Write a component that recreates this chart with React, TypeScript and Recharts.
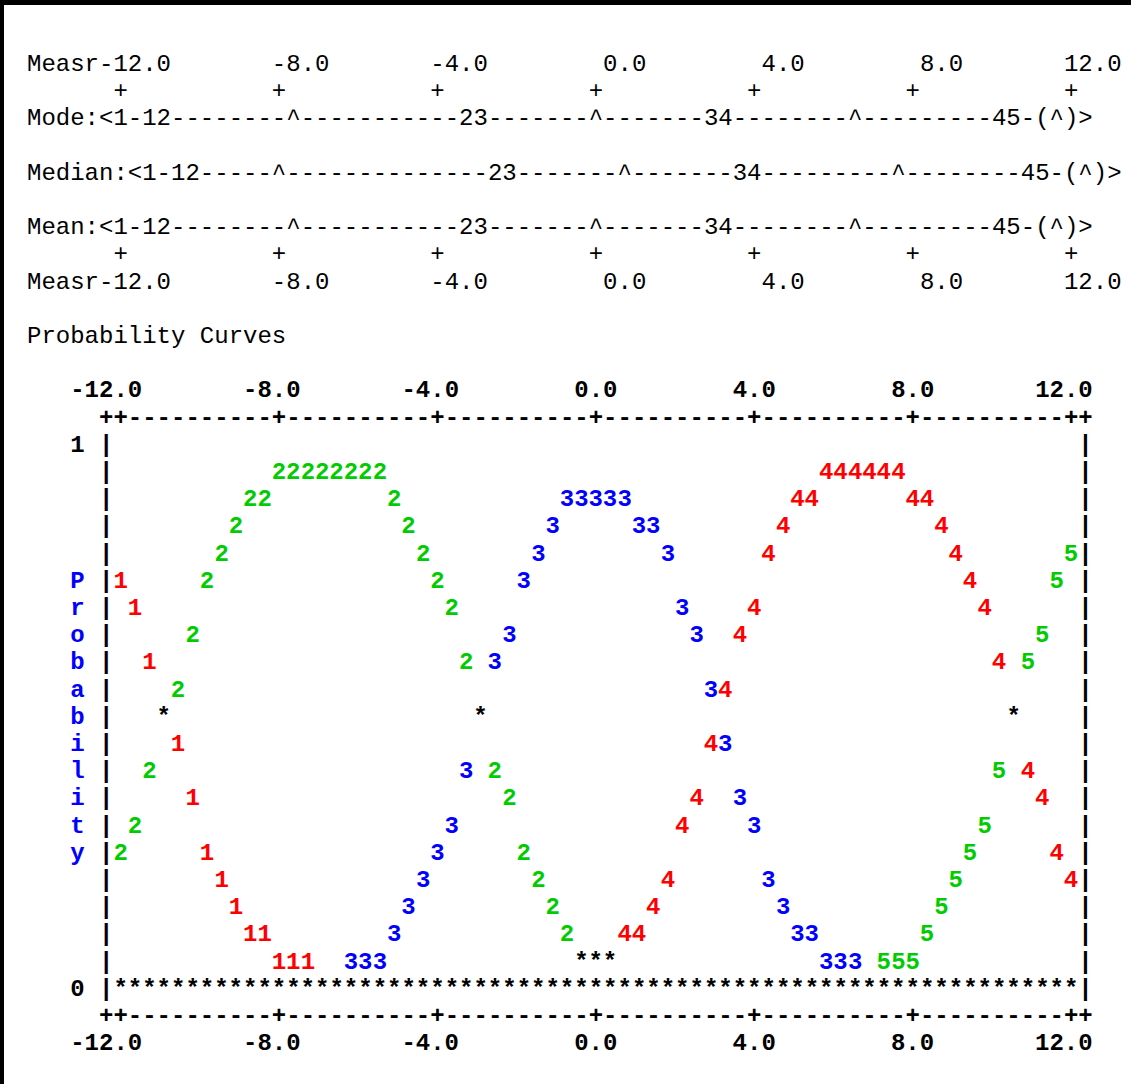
import React from "react";
import { Scatter, ScatterChart, XAxis, YAxis } from "recharts";

// page + monospace grid (24px Liberation Mono = 14.4px per cell)
const W = 1131;
const H = 1084;
const CW = 14.4;
const LH = 27.2;
const X0 = 27;
const Y0 = 63;
const SHIFT = 8;
const FONT = "'Liberation Mono', 'Courier New', monospace";
const AX = 40; // room reserved for the axes

const RED = "#ff0000";
const GREEN = "#00cc00";
const BLUE = "#0000ff";

const TICKS = [-12, -8, -4, 0, 4, 8, 12];

// summary lines: strings are text, numbers are runs of dashes
const MODE_MARKS: Array<string | number> = ["Mode:<1-12", 8, "^", 11, "23", 7, "^", 7, "34", 8, "^", 9, "45-(^)>"];
const MEDIAN_MARKS: Array<string | number> = ["Median:<1-12", 5, "^", 14, "23", 7, "^", 7, "34", 9, "^", 8, "45-(^)>"];
const MEAN_MARKS: Array<string | number> = ["Mean:<1-12", 8, "^", 11, "23", 7, "^", 7, "34", 8, "^", 9, "45-(^)>"];

const TITLE = "Probability Curves";
const Y_LABEL = "Probability";

// [measure, probability]
const CAT1 = [[-12.0, 0.75], [-11.64, 0.7], [-11.27, 0.6], [-10.55, 0.45], [-10.18, 0.35], [-9.82, 0.25], [-9.45, 0.2], [-9.09, 0.15], [-8.73, 0.1], [-8.36, 0.1], [-8.0, 0.05], [-7.64, 0.05], [-7.27, 0.05]];
const CAT2 = [[-8.0, 0.95], [-7.64, 0.95], [-7.27, 0.95], [-6.91, 0.95], [-6.55, 0.95], [-6.18, 0.95], [-5.82, 0.95], [-5.45, 0.95], [-8.73, 0.9], [-8.36, 0.9], [-5.09, 0.9], [-9.09, 0.85], [-4.73, 0.85], [-9.45, 0.8], [-4.36, 0.8], [-9.82, 0.75], [-4.0, 0.75], [-3.64, 0.7], [-10.18, 0.65], [-3.27, 0.6], [-10.55, 0.55], [-11.27, 0.4], [-2.55, 0.4], [-2.18, 0.35], [-11.64, 0.3], [-12.0, 0.25], [-1.82, 0.25], [-1.45, 0.2], [-1.09, 0.15], [-0.73, 0.1]];
const CAT3 = [[-6.18, 0.05], [-5.82, 0.05], [-5.45, 0.05], [-5.09, 0.1], [-4.73, 0.15], [-4.36, 0.2], [-4.0, 0.25], [-3.64, 0.3], [-3.27, 0.4], [-2.55, 0.6], [-2.18, 0.65], [-1.82, 0.75], [-1.45, 0.8], [-1.09, 0.85], [-0.73, 0.9], [-0.36, 0.9], [0, 0.9], [0.36, 0.9], [0.73, 0.9], [1.09, 0.85], [1.45, 0.85], [1.82, 0.8], [2.18, 0.7], [2.55, 0.65], [2.91, 0.55], [3.27, 0.45], [3.64, 0.35], [4.0, 0.3], [4.36, 0.2], [4.73, 0.15], [5.09, 0.1], [5.45, 0.1], [5.82, 0.05], [6.18, 0.05], [6.55, 0.05]];
const CAT4 = [[0.73, 0.1], [1.09, 0.1], [1.45, 0.15], [1.82, 0.2], [2.18, 0.3], [2.55, 0.35], [2.91, 0.45], [3.27, 0.55], [3.64, 0.65], [4.0, 0.7], [4.36, 0.8], [4.73, 0.85], [5.09, 0.9], [5.45, 0.9], [5.82, 0.95], [6.18, 0.95], [6.55, 0.95], [6.91, 0.95], [7.27, 0.95], [7.64, 0.95], [8.0, 0.9], [8.36, 0.9], [8.73, 0.85], [9.09, 0.8], [9.45, 0.75], [9.82, 0.7], [10.18, 0.6], [10.91, 0.4], [11.27, 0.35], [11.64, 0.25], [12.0, 0.2]];
const CAT5 = [[12.0, 0.8], [11.64, 0.75], [11.27, 0.65], [10.91, 0.6], [10.18, 0.4], [9.82, 0.3], [9.45, 0.25], [9.09, 0.2], [8.73, 0.15], [8.36, 0.1], [7.27, 0.05], [7.64, 0.05], [8.0, 0.05]];
const OVERLAP = [[-10.91, 0.5], [-2.91, 0.5], [10.55, 0.5], [-0.36, 0.05], [0, 0.05], [0.36, 0.05]];

const SERIES = [
  { name: "1", points: CAT1, color: RED },
  { name: "2", points: CAT2, color: GREEN },
  { name: "3", points: CAT3, color: BLUE },
  { name: "4", points: CAT4, color: RED },
  { name: "5", points: CAT5, color: GREEN },
  { name: "*", points: OVERLAP, color: "#000" },
];

const baseY = (line: number) => Y0 + line * LH + SHIFT;
const colX = (col: number) => X0 + col * CW;

const marks = (parts: Array<string | number>) =>
  parts.map((p) => (typeof p === "number" ? "-".repeat(p) : p)).join("");

const measrLine = "Measr" + TICKS.map((t, i) => t.toFixed(1).padStart(i === 0 ? 5 : 11)).join("");
const plusLine = " ".repeat(6) + TICKS.map(() => "+").join(" ".repeat(10));
const axisLine = " ".repeat(5) + "+" + TICKS.slice(1).map(() => "+" + "-".repeat(10)).join("") + "++";
const topLabels = TICKS.map((t, i) => t.toFixed(1).padStart(i === 0 ? 8 : 11)).join("");

function Txt({ line, col = 0, text, bold = false, color = "#000", anchor = "start" }: any) {
  return (
    <text
      x={colX(col)}
      y={baseY(line)}
      fill={color}
      fontFamily={FONT}
      fontSize={24}
      fontWeight={bold ? "bold" : "normal"}
      textAnchor={anchor}
      xmlSpace="preserve"
      style={{ whiteSpace: "pre" }}
    >
      {text}
    </text>
  );
}

function Frame() {
  const rows = [];
  for (let line = 14; line <= 34; line++) {
    rows.push(<Txt key={"l" + line} line={line} col={5} text="|" bold />);
    rows.push(<Txt key={"r" + line} line={line} col={73} text="|" bold />);
  }
  return (
    <svg width={W} height={H} style={{ position: "absolute", left: 0, top: 0 }}>
      <rect x={0} y={0} width={W} height={H} fill="#fff" />
      <rect x={0} y={0} width={4} height={H} fill="#000" />
      <rect x={0} y={0} width={W} height={5} fill="#000" />
      <Txt line={0} text={measrLine} />
      <Txt line={1} text={plusLine} />
      <Txt line={2} text={marks(MODE_MARKS)} />
      <Txt line={4} text={marks(MEDIAN_MARKS)} />
      <Txt line={6} text={marks(MEAN_MARKS)} />
      <Txt line={7} text={plusLine} />
      <Txt line={8} text={measrLine} />
      <Txt line={10} text={TITLE} />
      <Txt line={12} text={topLabels} bold />
      <Txt line={13} text={axisLine} bold />
      <Txt line={35} text={axisLine} bold />
      {rows}
      <Txt line={34} col={6} text={"*".repeat(67)} bold />
      {Y_LABEL.split("").map((ch, i) => (
        <Txt key={"p" + i} line={19 + i} col={3} text={ch} bold color={BLUE} />
      ))}
    </svg>
  );
}

const glyph = (ch: string, color: string) => (props: any) => (
  <text
    x={props.cx}
    y={props.cy + SHIFT}
    textAnchor="middle"
    fill={color}
    fontFamily={FONT}
    fontSize={24}
    fontWeight="bold"
  >
    {ch}
  </text>
);

const xTick = (props: any) => (
  <text
    x={props.x + 1.5 * CW}
    y={baseY(36)}
    textAnchor="end"
    fill="#000"
    fontFamily={FONT}
    fontSize={24}
    fontWeight="bold"
  >
    {Number(props.payload.value).toFixed(1)}
  </text>
);

const yTick = (props: any) => (
  <text
    x={colX(3.5)}
    y={props.y + SHIFT}
    textAnchor="middle"
    fill="#000"
    fontFamily={FONT}
    fontSize={24}
    fontWeight="bold"
  >
    {props.payload.value}
  </text>
);

export default function App() {
  const top = Y0 + 14 * LH;
  const bottom = H - (Y0 + 34 * LH) - AX;
  const left = colX(6.5) - AX;
  const right = W - colX(72.5);
  return (
    <div style={{ position: "absolute", left: 0, top: 0, width: W, height: H, background: "#fff" }}>
      <Frame />
      <div style={{ position: "absolute", left: 0, top: 0 }}>
        <ScatterChart width={W} height={H} margin={{ top, right, bottom, left }}>
          <XAxis
            xAxisId="main"
            type="number"
            dataKey="x"
            domain={[-12, 12]}
            ticks={TICKS}
            interval={0}
            height={AX}
            axisLine={false}
            tickLine={false}
            tick={xTick}
          />
          <YAxis
            yAxisId="main"
            type="number"
            dataKey="p"
            domain={[0, 1]}
            ticks={[0, 1]}
            interval={0}
            width={AX}
            axisLine={false}
            tickLine={false}
            tick={yTick}
          />
          {SERIES.map((s) => (
            <Scatter
              key={s.name}
              name={s.name}
              xAxisId="main"
              yAxisId="main"
              data={s.points.map(([x, p]) => ({ x, p }))}
              shape={glyph(s.name, s.color)}
              isAnimationActive={false}
            />
          ))}
        </ScatterChart>
      </div>
    </div>
  );
}
